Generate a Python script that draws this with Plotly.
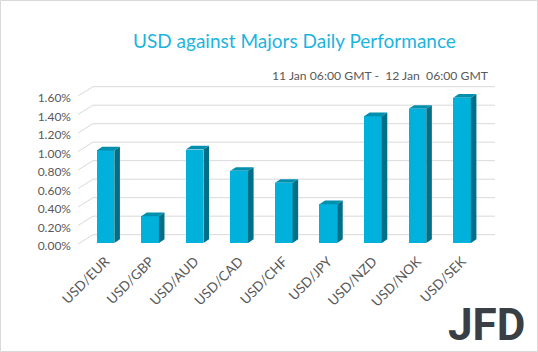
import plotly.graph_objects as go

# ---------------- data ----------------
categories = ["USD/EUR", "USD/GBP", "USD/AUD", "USD/CAD", "USD/CHF",
              "USD/JPY", "USD/NZD", "USD/NOK", "USD/SEK"]
performance = [1.00, 0.29, 1.01, 0.78, 0.65, 0.42, 1.37, 1.45, 1.57]
tick_values = [0.0, 0.2, 0.4, 0.6, 0.8, 1.0, 1.2, 1.4, 1.6]
tick_labels = ["0.00%", "0.20%", "0.40%", "0.60%", "0.80%",
               "1.00%", "1.20%", "1.40%", "1.60%"]

# ---------------- styling / geometry ----------------
W, H = 538, 352
ML, MR, MT, MB = 72, 38, 80, 102
XR = [-0.752, 8.853]
YR = [-0.0757, 1.762]
BAR_W = 0.397
DX, DY = 0.125, 0.040          # 3D depth offset of the bars
FRONT_C, TOP_C, SIDE_C = "#00B2DB", "#0090AE", "#006F87"
GRID_C = "#D9D9D9"
TXT_C = "#595959"
FONT = "Lato"

x_pos = list(range(len(categories)))

fig = go.Figure()

# front faces
fig.add_trace(go.Bar(x=x_pos, y=performance, width=BAR_W,
                     marker=dict(color=FRONT_C, line=dict(width=0)),
                     showlegend=False, hoverinfo="skip"))

# side and top faces (derived from values)
side_x, side_y, top_x, top_y = [], [], [], []
for i, v in zip(x_pos, performance):
    r = i + BAR_W / 2
    l = i - BAR_W / 2
    side_x += [r, r + DX, r + DX, r, r, None]
    side_y += [0, DY, v + DY, v, 0, None]
    top_x += [l, l + DX, r + DX, r, l, None]
    top_y += [v, v + DY, v + DY, v, v, None]
fig.add_trace(go.Scatter(x=side_x, y=side_y, fill="toself", mode="lines",
                         fillcolor=SIDE_C, line=dict(width=0, color=SIDE_C),
                         showlegend=False, hoverinfo="skip"))
fig.add_trace(go.Scatter(x=top_x, y=top_y, fill="toself", mode="lines",
                         fillcolor=TOP_C, line=dict(width=0, color=TOP_C),
                         showlegend=False, hoverinfo="skip"))

# invisible trace on yaxis2 to hold the tick labels
fig.add_trace(go.Scatter(x=[0], y=[0], yaxis="y2", mode="markers",
                         marker=dict(opacity=0), showlegend=False, hoverinfo="skip"))

# perspective gridlines (side wall + back wall)
X_FRONT, X_BACK, X_RIGHT = -0.617, -0.281, 8.74
FRONT_OFF, BACK_OFF = -0.011, 0.09
shapes = []
for t in tick_values:
    shapes.append(dict(
        type="path", xref="x", yref="y", layer="below",
        path=f"M {X_FRONT},{t + FRONT_OFF} L {X_BACK},{t + BACK_OFF} L {X_RIGHT},{t + BACK_OFF}",
        line=dict(color=GRID_C, width=1)))
# outer border
pw, ph = W - ML - MR, H - MT - MB
shapes.append(dict(type="rect", xref="paper", yref="paper",
                   x0=(0.5 - ML) / pw, x1=(W - 0.5 - ML) / pw,
                   y0=(H - MB - (H - 0.5)) / ph, y1=(H - MB - 0.5) / ph,
                   line=dict(color=GRID_C, width=1), layer="below"))

def px_x(px):
    return (px - ML) / pw

def px_y(py):
    return (H - MB - py) / ph

annotations = [
    dict(text="USD against Majors Daily Performance", xref="paper", yref="paper",
         x=px_x(294), y=px_y(41), xanchor="center", yanchor="middle", showarrow=False,
         font=dict(family=FONT, size=19, color="#1CB4DE")),
    dict(text="11 Jan 06:00 GMT -  12 Jan  06:00 GMT", xref="paper", yref="paper",
         x=px_x(491), y=px_y(75.5), xanchor="right", yanchor="middle", showarrow=False,
         font=dict(family=FONT, size=12.2, color=TXT_C)),
    dict(text="<b>JFD</b>", xref="paper", yref="paper",
         x=px_x(486), y=px_y(325), xanchor="center", yanchor="middle", showarrow=False,
         font=dict(family="Roboto", size=44, color="#3A3F46")),
]

fig.update_layout(
    width=W, height=H,
    margin=dict(l=ML, r=MR, t=MT, b=MB, pad=0),
    paper_bgcolor="white", plot_bgcolor="rgba(0,0,0,0)",
    shapes=shapes, annotations=annotations,
    xaxis=dict(range=XR, tickmode="array", tickvals=x_pos, ticktext=categories,
               tickangle=-45, showgrid=False, zeroline=False, showline=False,
               ticks="", tickfont=dict(family=FONT, size=13.5, color=TXT_C)),
    yaxis=dict(range=YR, showgrid=False, zeroline=False, showline=False,
               showticklabels=False, ticks=""),
    yaxis2=dict(range=[YR[0] + 0.032, YR[1] + 0.032], overlaying="y", side="left",
                anchor="x", tickmode="array", tickvals=tick_values, ticktext=tick_labels,
                showgrid=False, zeroline=False, showline=False, ticks="",
                tickfont=dict(family=FONT, size=12, color=TXT_C)),
    bargap=0,
)

fig.write_html("out.html")
